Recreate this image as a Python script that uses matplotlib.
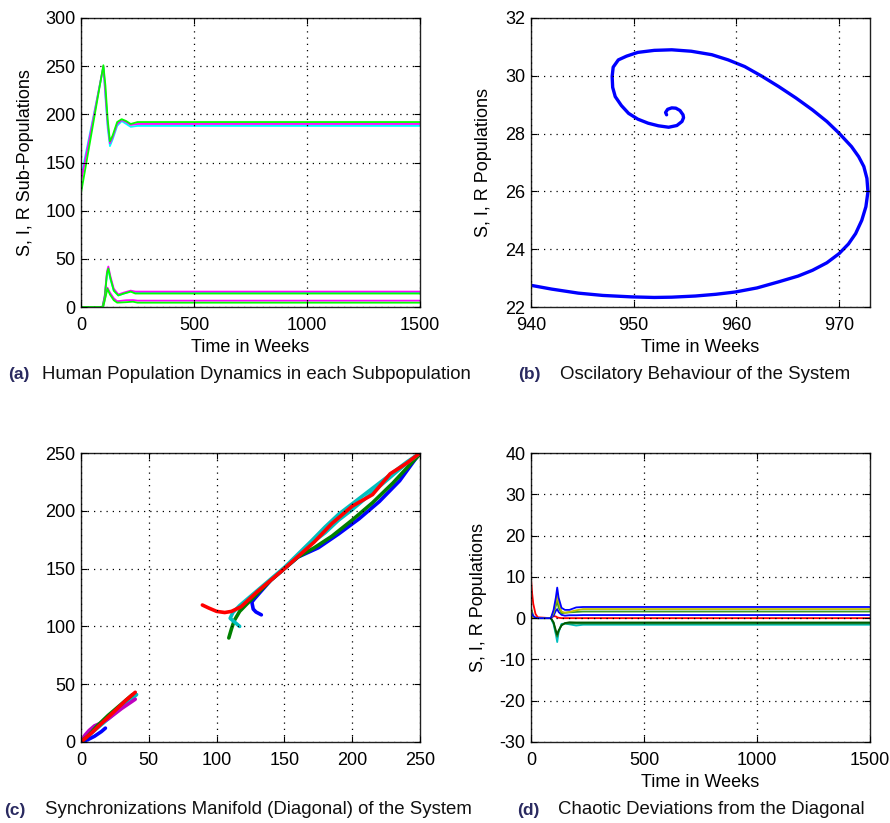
import matplotlib
matplotlib.use("Agg")
import matplotlib.pyplot as plt

# ---------------------------------------------------------------------------
# Panel (a): S, I, R sub-populations against time (weeks)
# ---------------------------------------------------------------------------
a_s_t = [0, 50, 99, 108, 118, 128, 140, 160, 180, 200, 220, 250, 1500]
a_s_green = [118, 185, 251, 230, 195, 172, 178, 192, 195, 193, 190, 192, 192]
a_s_magenta = [130, 190, 250, 222, 190, 170, 176, 190, 194, 192, 189, 190, 190]
a_s_cyan = [135, 192, 249, 218, 186, 167, 174, 188, 193, 190, 187, 188, 188]

a_i_t = [0, 95, 105, 115, 121, 130, 145, 165, 190, 220, 240, 1500]
a_i_green = [0, 0, 10, 35, 40, 30, 17, 12, 14, 16, 14, 14]
a_i_magenta = [0, 0, 12, 37, 42, 32, 19, 13, 15, 17, 16, 16]
a_i_cyan = [0, 0, 11, 34, 38, 29, 17, 12, 14, 16, 15, 15]

a_r_t = [0, 98, 110, 117, 128, 145, 160, 200, 230, 250, 1500]
a_r_green = [0, 0, 12, 19, 13, 7, 4.5, 5, 5.5, 4.5, 4.5]
a_r_magenta = [0, 0, 13, 20, 15, 9, 6, 7, 7.2, 6.6, 6.6]

# ---------------------------------------------------------------------------
# Panel (b): oscillatory trajectory (time in weeks, population)
# ---------------------------------------------------------------------------
b_t = [940, 942, 944.6, 947, 949.8, 952, 953.7, 956, 958, 959.9, 962, 964.1,
       966, 967.4, 968.8, 970, 970.9, 971.6, 972.2, 972.6, 972.8, 972.7,
       972.4, 971.9, 971.2, 970, 968.8, 967.4, 965.8, 964.1, 962.5, 960.8,
       959.2, 957.6, 955.6, 953.7, 952, 950.4, 949.3, 948.5, 948.0, 947.9,
       947.95, 948.2, 948.8, 949.5, 950.4, 951.4, 952.4, 953.4, 954.2, 954.7,
       954.85, 954.8, 954.5, 954.1, 953.7, 953.3, 953.1, 953.2]
b_v = [22.75, 22.62, 22.48, 22.40, 22.35, 22.33, 22.34, 22.38, 22.44, 22.52,
       22.66, 22.87, 23.07, 23.27, 23.53, 23.85, 24.18, 24.54, 25.0, 25.47,
       25.99, 26.45, 26.86, 27.2, 27.55, 28.01, 28.42, 28.82, 29.23, 29.63,
       29.98, 30.32, 30.55, 30.73, 30.85, 30.90, 30.88, 30.81, 30.68, 30.55,
       30.3, 29.98, 29.6, 29.28, 28.97, 28.70, 28.50, 28.36, 28.27, 28.22,
       28.28, 28.42, 28.55, 28.65, 28.8, 28.88, 28.89, 28.84, 28.73, 28.65]

# ---------------------------------------------------------------------------
# Panel (c): synchronization manifold, node i vs node j
# ---------------------------------------------------------------------------
c_low_magenta_x = [0, 3, 6, 10, 14, 20, 30, 40]
c_low_magenta_y = [0, 6, 10, 14, 16, 20, 29, 37]
c_low_green_x = [0, 5, 12, 20, 30, 38]
c_low_green_y = [0, 5, 14, 23, 33, 41]
c_low_red_x = [0, 8, 16, 25, 33, 40]
c_low_red_y = [0, 8, 17, 27, 36, 43]
c_low_blue_x = [0, 5, 10, 15, 18]
c_low_blue_y = [0, 2, 5, 9, 12]
c_low_cyan_x = [0, 10, 20, 30, 41]
c_low_cyan_y = [0, 10, 20, 30, 41]

c_up_red_x = [89.5, 94, 100, 106, 111, 118, 130, 150, 172, 185, 200, 215, 228, 240, 250]
c_up_red_y = [118.5, 116, 113, 112, 113, 117, 130, 150, 173, 189, 204, 214, 232, 241, 250]
c_up_blue_x = [133, 129, 127, 126, 128, 140, 160, 175, 190, 205, 220, 235, 248]
c_up_blue_y = [110, 112.5, 115, 121, 124, 140, 160, 168, 180, 193, 208, 226, 247]
c_up_green_x = [109, 111, 113, 117, 122, 140, 160, 172, 185, 200, 215, 230, 245, 250]
c_up_green_y = [90, 98, 105, 113, 119, 140, 160, 168, 178, 192, 207, 224, 243, 249]
c_up_cyan_x = [117, 113, 110, 112, 117, 130, 150, 170, 180, 190, 200, 210, 220, 230, 240, 250]
c_up_cyan_y = [100, 104, 107, 112, 118, 131, 151, 174, 186, 197, 206, 215, 224, 233, 242, 250]
c_up_cyan2_x = [170, 180, 190, 200, 210, 220, 230, 240, 250]
c_up_cyan2_y = [172, 181, 192, 201, 211, 221, 231, 241, 250]

# ---------------------------------------------------------------------------
# Panel (d): deviations from the diagonal against time (weeks)
# ---------------------------------------------------------------------------
d_t = [0, 5, 10, 20, 30, 88, 100, 110, 116, 122, 135, 150, 170, 200, 230, 1500]
d_red = [9.6, 6, 3.5, 1, 0.2, 0, 0.5, 0.4, 0.2, 0.1, 0.0, 0.0, 0.0, 0.0, 0.0, 0.0]
d_blue1 = [1.5, 1, 0.5, 0.1, 0, 0, 2, 5, 7.4, 5, 2.5, 2, 2, 2.6, 2.7, 2.7]
d_olive = [0.5, 0.3, 0.1, 0, 0, 0, 1.5, 4, 5.8, 3.8, 1.6, 1.3, 1.5, 1.9, 2.2, 2.2]
d_green = [2.5, 1.5, 0.5, 0.1, 0, 0, 1.2, 3, 4.2, 2.6, 1.2, 1.3, 1.4, 1.5, 1.6, 1.6]
d_blue2 = [0, 0, 0, 0, 0, 0, 0.6, 1.8, 2.2, 1.5, 0.8, 0.6, 0.7, 0.7, 0.75, 0.75]
d_dkgreen = [0, 0, 0, 0, 0, 0, -1, -3, -4, -3, -1.8, -1.2, -1.0, -1.05, -1.05, -1.05]
d_green2 = [0, 0, 0, 0, 0, 0, -1.2, -3.5, -4.5, -3.2, -1.6, -1.3, -1.3, -1.3, -1.3, -1.3]
d_cyan = [0, 0, 0, 0, 0, 0, -1.5, -4, -5.8, -3.5, -1.4, -1.3, -1.5, -1.8, -1.6, -1.6]

time_ticks = [0, 500, 1000, 1500]

plt.rcParams['font.family'] = ['Liberation Sans', 'DejaVu Sans']
plt.rcParams['font.size'] = 13
plt.rcParams['axes.unicode_minus'] = False

fig = plt.figure(figsize=(8.9, 8.23), dpi=100)

W = 339 / 890
H = 289 / 823
ax_a = fig.add_axes([81 / 890, 1 - 307 / 823, W, H])
ax_b = fig.add_axes([531 / 890, 1 - 307 / 823, W, H])
ax_c = fig.add_axes([81 / 890, 1 - 742 / 823, W, H])
ax_d = fig.add_axes([531 / 890, 1 - 742 / 823, W, H])


def style(ax):
    ax.grid(True, color='black', linestyle=(0, (1, 4)), linewidth=0.9)
    ax.tick_params(direction='in', length=4, width=0.8, top=True, right=True,
                   labelsize=13, colors='black')
    ax.tick_params(axis='x', pad=7)
    ax.tick_params(axis='y', pad=4)
    for s in ax.spines.values():
        s.set_linewidth(1.0)
        s.set_color('#202020')
    ax.set_axisbelow(False)


# (a)
lw_a = 1.3
for t, v, c in [(a_s_t, a_s_cyan, '#00ffff'), (a_s_t, a_s_magenta, '#ff00ff'),
                (a_s_t, a_s_green, '#00ff00'),
                (a_i_t, a_i_cyan, '#00ffff'), (a_i_t, a_i_magenta, '#ff00ff'),
                (a_i_t, a_i_green, '#00ff00'),
                (a_r_t, a_r_magenta, '#ff00ff'), (a_r_t, a_r_green, '#00ff00')]:
    ax_a.plot(t, v, color=c, lw=lw_a)
ax_a.set_xlim(0, 1500)
ax_a.set_ylim(0, 300)
ax_a.set_xticks(time_ticks)
ax_a.set_yticks(range(0, 301, 50))
ax_a.set_xlabel('Time in Weeks', fontsize=13)
ax_a.set_ylabel('S, I, R Sub-Populations', fontsize=13)
ax_a.xaxis.set_label_coords(0.5, -0.112)
ax_a.yaxis.set_label_coords(-0.139, 0.5)
style(ax_a)

# (b)
ax_b.plot(b_t, b_v, color='#0000ff', lw=2.4, solid_capstyle='round',
          solid_joinstyle='round')
ax_b.set_xlim(940, 973)
ax_b.set_ylim(22, 32)
ax_b.set_xticks([940, 950, 960, 970])
ax_b.set_yticks(range(22, 33, 2))
ax_b.set_xlabel('Time in Weeks', fontsize=13)
ax_b.set_ylabel('S, I, R Populations', fontsize=13)
ax_b.xaxis.set_label_coords(0.5, -0.112)
ax_b.yaxis.set_label_coords(-0.115, 0.5)
style(ax_b)

# (c)
lw_c = 2.6
for x, y, c in [(c_low_cyan_x, c_low_cyan_y, '#00bfbf'),
                (c_low_blue_x, c_low_blue_y, '#0000ff'),
                (c_low_magenta_x, c_low_magenta_y, '#bf00bf'),
                (c_low_green_x, c_low_green_y, '#008000'),
                (c_low_red_x, c_low_red_y, '#ff0000'),
                (c_up_blue_x, c_up_blue_y, '#0000ff'),
                (c_up_green_x, c_up_green_y, '#008000'),
                (c_up_cyan2_x, c_up_cyan2_y, '#00bfbf'),
                (c_up_cyan_x, c_up_cyan_y, '#00bfbf'),
                (c_up_red_x, c_up_red_y, '#ff0000')]:
    ax_c.plot(x, y, color=c, lw=lw_c, solid_capstyle='round')
ax_c.set_xlim(0, 250)
ax_c.set_ylim(0, 250)
ax_c.set_xticks(range(0, 251, 50))
ax_c.set_yticks(range(0, 251, 50))
style(ax_c)

# (d)
for v, c in [(d_cyan, '#00bfbf'), (d_green2, '#1a8a3a'), (d_dkgreen, '#005a00'),
             (d_red, '#ff0000'), (d_blue2, '#0000ff'), (d_green, '#3c9a28'),
             (d_olive, '#bfbf00'), (d_blue1, '#0000ff')]:
    ax_d.plot(d_t, v, color=c, lw=1.3)
ax_d.set_xlim(0, 1500)
ax_d.set_ylim(-30, 40)
ax_d.set_xticks(time_ticks)
ax_d.set_yticks(range(-30, 41, 10))
ax_d.set_xlabel('Time in Weeks', fontsize=13)
ax_d.set_ylabel('S, I, R Populations', fontsize=13)
ax_d.xaxis.set_label_coords(0.5, -0.11)
ax_d.yaxis.set_label_coords(-0.13, 0.5)
style(ax_d)

# Captions
cap_kw = dict(fontsize=13.4, va='center', ha='left', color='#111111')
tag_kw = dict(fontsize=12.5, va='center', ha='left', color='#2a2a60', fontweight='bold')
y_top = 1 - 375 / 823
y_bot = 1 - 810 / 823
fig.text(8 / 890, y_top, '(a)', **tag_kw)
fig.text(42 / 890, y_top, 'Human Population Dynamics in each Subpopulation', **cap_kw)
fig.text(518 / 890, y_top, '(b)', **tag_kw)
fig.text(560 / 890, y_top, 'Oscilatory Behaviour of the System', **cap_kw)
fig.text(4 / 890, y_bot, '(c)', **tag_kw)
fig.text(45 / 890, y_bot, 'Synchronizations Manifold (Diagonal) of the System', **cap_kw)
fig.text(517 / 890, y_bot, '(d)', **tag_kw)
fig.text(558 / 890, y_bot, 'Chaotic Deviations from the Diagonal', **cap_kw)

fig.savefig('out.png', dpi=100)
